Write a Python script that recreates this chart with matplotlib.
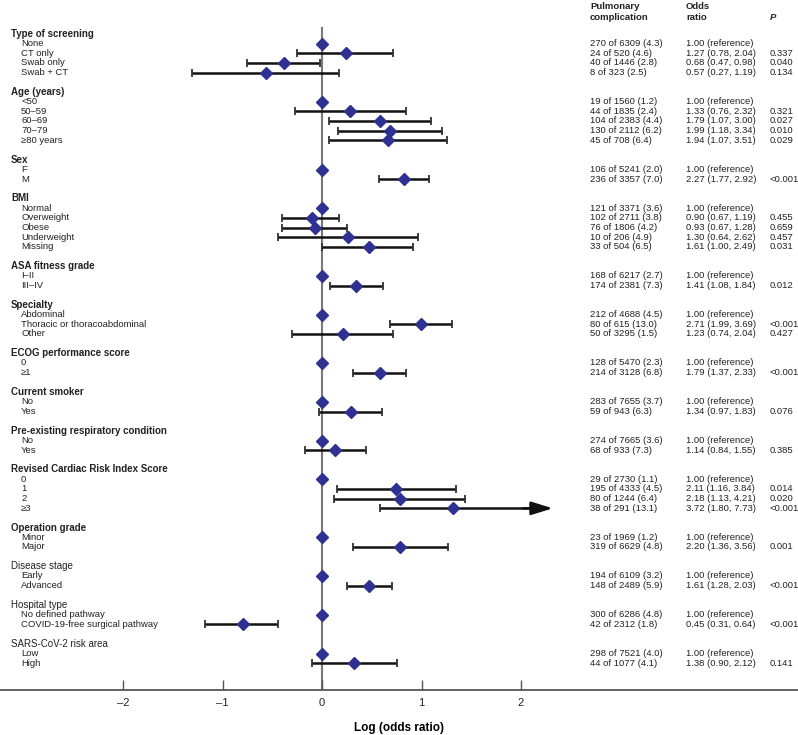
import numpy as np
import matplotlib.pyplot as plt
from matplotlib.transforms import blended_transform_factory

plt.rcParams['font.family'] = ['Liberation Sans', 'DejaVu Sans']

headers = ["Type of screening", "Age (years)", "Sex", "BMI", "ASA fitness grade",
           "Specialty", "ECOG performance score", "Current smoker",
           "Pre-existing respiratory condition", "Revised Cardiac Risk Index Score",
           "Operation grade", "Disease stage", "Hospital type", "SARS-CoV-2 risk area"]
header_bold = [True] * 11 + [False] * 3
levels = [["None", "CT only", "Swab only", "Swab + CT"],
          ["<50", "50–59", "60–69", "70–79", "≥80 years"],
          ["F", "M"],
          ["Normal", "Overweight", "Obese", "Underweight", "Missing"],
          ["I–II", "III–IV"],
          ["Abdominal", "Thoracic or thoracoabdominal", "Other"],
          ["0", "≥1"],
          ["No", "Yes"],
          ["No", "Yes"],
          ["0", "1", "2", "≥3"],
          ["Minor", "Major"],
          ["Early", "Advanced"],
          ["No defined pathway", "COVID-19-free surgical pathway"],
          ["Low", "High"]]

events = [270, 24, 40, 8, 19, 44, 104, 130, 45, 106, 236, 121, 102, 76, 10, 33,
          168, 174, 212, 80, 50, 128, 214, 283, 59, 274, 68, 29, 195, 80, 38,
          23, 319, 194, 148, 300, 42, 298, 44]
totals = [6309, 520, 1446, 323, 1560, 1835, 2383, 2112, 708, 5241, 3357, 3371, 2711,
          1806, 206, 504, 6217, 2381, 4688, 615, 3295, 5470, 3128, 7655, 943, 7665,
          933, 2730, 4333, 1244, 291, 1969, 6629, 6109, 2489, 6286, 2312, 7521, 1077]
pcts = [4.3, 4.6, 2.8, 2.5, 1.2, 2.4, 4.4, 6.2, 6.4, 2.0, 7.0, 3.6, 3.8, 4.2, 4.9, 6.5,
        2.7, 7.3, 4.5, 13.0, 1.5, 2.3, 6.8, 3.7, 6.3, 3.6, 7.3, 1.1, 4.5, 6.4, 13.1,
        1.2, 4.8, 3.2, 5.9, 4.8, 1.8, 4.0, 4.1]
odds = [1.00, 1.27, 0.68, 0.57, 1.00, 1.33, 1.79, 1.99, 1.94, 1.00, 2.27, 1.00, 0.90,
        0.93, 1.30, 1.61, 1.00, 1.41, 1.00, 2.71, 1.23, 1.00, 1.79, 1.00, 1.34, 1.00,
        1.14, 1.00, 2.11, 2.18, 3.72, 1.00, 2.20, 1.00, 1.61, 1.00, 0.45, 1.00, 1.38]
ci_lo = [None, 0.78, 0.47, 0.27, None, 0.76, 1.07, 1.18, 1.07, None, 1.77, None, 0.67,
         0.67, 0.64, 1.00, None, 1.08, None, 1.99, 0.74, None, 1.37, None, 0.97, None,
         0.84, None, 1.16, 1.13, 1.80, None, 1.36, None, 1.28, None, 0.31, None, 0.90]
ci_hi = [None, 2.04, 0.98, 1.19, None, 2.32, 3.00, 3.34, 3.51, None, 2.92, None, 1.19,
         1.28, 2.62, 2.49, None, 1.84, None, 3.69, 2.04, None, 2.33, None, 1.83, None,
         1.55, None, 3.84, 4.21, 7.73, None, 3.56, None, 2.03, None, 0.64, None, 2.12]
pvals = ["", "0.337", "0.040", "0.134", "", "0.321", "0.027", "0.010", "0.029", "",
         "<0.001", "", "0.455", "0.659", "0.457", "0.031", "", "0.012", "", "<0.001",
         "0.427", "", "<0.001", "", "0.076", "", "0.385", "", "0.014", "0.020", "<0.001",
         "", "0.001", "", "<0.001", "", "<0.001", "", "0.141"]

x_max = 2.0    # CIs going past the last tick get an arrow
x_arrow = 2.32

W, H = 798, 735
fig = plt.figure(figsize=(W / 100, H / 100), dpi=100)
ax = fig.add_axes([0, 45 / H, 1, 690 / H])
ppu = 99.5
ax.set_xlim(-322 / ppu, (W - 322) / ppu)
row_h = 9.68
ax.set_ylim(656 / row_h, -34 / row_h)

for s in ['top', 'left', 'right']:
    ax.spines[s].set_visible(False)
ax.spines['bottom'].set_color('#555555')
ax.spines['bottom'].set_linewidth(1.3)
ax.set_yticks([])
ax.set_xticks([-2, -1, 0, 1, 2])
ax.set_xticklabels(['–2', '–1', '0', '1', '2'])
ax.tick_params(axis='x', direction='in', length=7, width=1, color='#555555',
               labelsize=8, pad=6, labelcolor='#222222')
ax.set_xlabel('Log (odds ratio)', fontsize=8.5, fontweight='bold', labelpad=10)

ax.vlines(0, -0.72, 656 / row_h, color='#777777', lw=1.5, zorder=1)

tr = blended_transform_factory(fig.transFigure, ax.transData)
fs = 6.8
col_n, col_or, col_p = 590, 686, 770
va = 'center_baseline'
dy = -0.12  # nudge text up to line up with markers

def px_row(py):
    return (py - 34) / row_h

# column headers
for x0, lines in [(col_n, ['Pulmonary', 'complication']), (col_or, ['Odds', 'ratio'])]:
    ax.text(x0 / W, px_row(5.5), lines[0], transform=tr, fontsize=fs,
            fontweight='bold', va=va, ha='left', color='#222222')
    ax.text(x0 / W, px_row(16), lines[1], transform=tr, fontsize=fs,
            fontweight='bold', va=va, ha='left', color='#222222')
ax.text(col_p / W, px_row(16), 'P', transform=tr, fontsize=fs, fontweight='bold',
        fontstyle='italic', va=va, ha='left', color='#222222')

row = 0
k = 0
for g, head in enumerate(headers):
    ax.text(11 / W, row + dy, head, transform=tr, fontsize=fs + 0.2, va=va, ha='left',
            fontweight='bold' if header_bold[g] else 'normal', color='#222222')
    row += 1
    for lev in levels[g]:
        ty = row + dy
        ax.text(21 / W, ty, lev, transform=tr, fontsize=fs, va=va, ha='left',
                color='#222222')
        ax.text(col_n / W, ty, f'{events[k]} of {totals[k]} ({pcts[k]:.1f})', transform=tr,
                fontsize=fs, va=va, ha='left', color='#222222')
        if ci_lo[k] is None:
            or_txt = f'{odds[k]:.2f} (reference)'
        else:
            or_txt = f'{odds[k]:.2f} ({ci_lo[k]:.2f}, {ci_hi[k]:.2f})'
        ax.text(col_or / W, ty, or_txt, transform=tr, fontsize=fs, va=va,
                ha='left', color='#222222')
        ax.text(col_p / W, ty, pvals[k], transform=tr, fontsize=fs, va=va,
                ha='left', color='#222222')

        if ci_lo[k] is not None:
            lo = np.log(ci_lo[k])
            hi = np.log(ci_hi[k])
            ax.plot(lo, row, marker='|', ms=6, mew=1.3, color='#333333', zorder=2)
            if hi > x_max:
                ax.hlines(row, lo, x_arrow - 0.1, color='#111111', lw=1.8, zorder=2)
                ax.annotate('', xy=(x_arrow, row), xycoords='data',
                            xytext=(x_arrow - 0.3, row), textcoords='data',
                            arrowprops=dict(arrowstyle='-|>,head_length=1.3,head_width=0.4',
                                            color='#111111', lw=1.8, mutation_scale=10,
                                            shrinkA=0, shrinkB=0), zorder=2)
            else:
                ax.hlines(row, lo, hi, color='#111111', lw=1.8, zorder=2)
                ax.plot(hi, row, marker='|', ms=6, mew=1.3, color='#333333', zorder=2)
        ax.plot(np.log(odds[k]), row, marker='D', ms=6.3, color='#2E3192',
                linestyle='none', zorder=3)
        row += 1
        k += 1
    row += 1

fig.savefig('out.png', dpi=100)
